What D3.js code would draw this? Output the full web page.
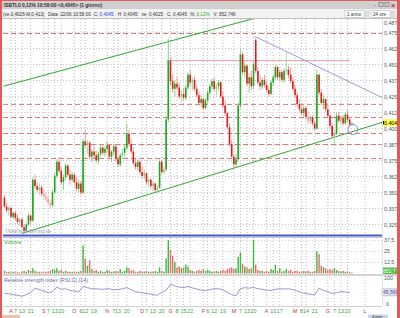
<!DOCTYPE html>
<html><head><meta charset="utf-8">
<script src="https://cdn.jsdelivr.net/npm/d3@7"></script>
<style>html,body{margin:0;padding:0;background:#fff;overflow:hidden}svg{display:block}text{font-family:"Liberation Sans",Arial,sans-serif}</style>
</head><body>
<svg id="c" width="400" height="318"></svg>
<script>
// ---- daily candles (price, euro) ----
const open=[
.3460,.3390,.3360,.3380,.3310,.3340,.3300,.3270,.3290,.3230,
.3200,.3250,.3320,.3280,.3600,.3550,.3520,.3540,.3490,.3470,
.3450,.3420,.3400,.3500,.3630,.3740,.3670,.3580,.3620,.3710,
.3640,.3600,.3640,.3580,.3530,.3570,.3500,.3900,.3870,.3890,
.3780,.3820,.3790,.3750,.3800,.3850,.3810,.3840,.3870,.3780,
.3820,.3860,.3760,.3720,.3790,.3810,.3850,.3960,.3880,.3820,
.3730,.3700,.3740,.3660,.3630,.3650,.3580,.3600,.3550,.3570,
.3520,.3540,.3740,.3660,.3680,.4070,.4530,.4370,.4310,.4350,
.4320,.4250,.4270,.4240,.4320,.4420,.4360,.4380,.4310,.4260,
.4200,.4230,.4160,.4220,.4280,.4330,.4370,.4310,.4330,.4360,
.4250,.4180,.4120,.4010,.3880,.3780,.3720,.3760,.4180,.4580,
.4440,.4490,.4350,.4400,.4330,.4690,.4450,.4360,.4330,.4380,
.4340,.4300,.4270,.4360,.4400,.4480,.4400,.4440,.4380,.4450,
.4460,.4420,.4370,.4310,.4260,.4190,.4150,.4120,.4160,.4090,
.4060,.4090,.4040,.4000,.4420,.4280,.4200,.4230,.4150,.4100,
.4020,.3940,.3960,.4100,.4060,.4080,.4040,.4110,.4070,.4030];
const high=[
.3480,.3420,.3400,.3390,.3350,.3360,.3330,.3300,.3300,.3250,
.3260,.3340,.3330,.3620,.3640,.3580,.3570,.3560,.3530,.3500,
.3480,.3440,.3520,.3650,.3760,.3780,.3700,.3640,.3730,.3720,
.3680,.3660,.3650,.3620,.3600,.3590,.3920,.3990,.3910,.3900,
.3840,.3860,.3830,.3820,.3870,.3880,.3860,.3900,.3880,.3830,
.3880,.3870,.3790,.3810,.3840,.3870,.4040,.3990,.3920,.3850,
.3770,.3760,.3750,.3700,.3680,.3660,.3620,.3610,.3590,.3580,
.3560,.3760,.3750,.3700,.4100,.4700,.4560,.4420,.4380,.4400,
.4360,.4300,.4320,.4340,.4440,.4460,.4400,.4410,.4340,.4290,
.4260,.4240,.4240,.4300,.4350,.4390,.4400,.4350,.4380,.4370,
.4290,.4220,.4130,.4040,.3910,.3800,.3800,.4200,.4620,.4600,
.4520,.4500,.4430,.4450,.4520,.4710,.4480,.4420,.4400,.4420,
.4370,.4330,.4380,.4420,.4500,.4490,.4460,.4460,.4470,.4600,
.4490,.4480,.4400,.4340,.4280,.4230,.4200,.4180,.4170,.4130,
.4110,.4100,.4060,.4460,.4430,.4310,.4260,.4240,.4190,.4110,
.4040,.3990,.4120,.4130,.4100,.4110,.4130,.4150,.4090,.4050];
const low=[
.3380,.3340,.3320,.3300,.3290,.3280,.3250,.3240,.3220,.3180,
.3190,.3240,.3260,.3270,.3530,.3500,.3480,.3470,.3450,.3430,
.3400,.3380,.3390,.3490,.3610,.3650,.3560,.3520,.3600,.3620,
.3560,.3580,.3570,.3510,.3500,.3480,.3490,.3850,.3800,.3760,
.3740,.3770,.3730,.3720,.3780,.3790,.3780,.3810,.3760,.3740,
.3790,.3740,.3700,.3700,.3760,.3780,.3830,.3860,.3800,.3710,
.3680,.3670,.3640,.3610,.3600,.3560,.3540,.3530,.3510,.3500,
.3490,.3530,.3640,.3640,.3670,.4050,.4340,.4280,.4250,.4300,
.4230,.4200,.4220,.4220,.4300,.4330,.4300,.4290,.4240,.4180,
.4170,.4140,.4150,.4200,.4260,.4300,.4290,.4260,.4300,.4230,
.4160,.4100,.3990,.3860,.3760,.3680,.3700,.3740,.4160,.4420,
.4400,.4330,.4280,.4300,.4310,.4430,.4340,.4300,.4310,.4320,
.4280,.4250,.4260,.4330,.4380,.4380,.4370,.4360,.4360,.4420,
.4390,.4350,.4290,.4240,.4170,.4130,.4100,.4090,.4070,.4030,
.4040,.4020,.3980,.3990,.4260,.4180,.4150,.4130,.4080,.4000,
.3920,.3880,.3950,.4040,.4030,.4020,.4030,.4050,.4010,.4020];
const close=[
.3390,.3360,.3380,.3310,.3340,.3300,.3270,.3290,.3230,.3200,
.3250,.3320,.3280,.3600,.3550,.3520,.3540,.3490,.3470,.3450,
.3420,.3400,.3500,.3630,.3740,.3670,.3580,.3620,.3710,.3640,
.3600,.3640,.3580,.3530,.3570,.3500,.3900,.3870,.3890,.3780,
.3820,.3790,.3750,.3800,.3850,.3810,.3840,.3870,.3780,.3820,
.3860,.3760,.3720,.3790,.3810,.3850,.3960,.3880,.3820,.3730,
.3700,.3740,.3660,.3630,.3650,.3580,.3600,.3550,.3570,.3520,
.3540,.3740,.3660,.3680,.4070,.4530,.4370,.4310,.4350,.4320,
.4250,.4270,.4240,.4320,.4420,.4360,.4380,.4310,.4260,.4200,
.4230,.4160,.4220,.4280,.4330,.4370,.4310,.4330,.4360,.4250,
.4180,.4120,.4010,.3880,.3780,.3720,.3760,.4180,.4580,.4440,
.4490,.4350,.4400,.4330,.4500,.4450,.4360,.4330,.4380,.4340,
.4300,.4270,.4360,.4400,.4480,.4400,.4440,.4380,.4450,.4460,
.4420,.4370,.4310,.4260,.4190,.4150,.4120,.4160,.4090,.4060,
.4090,.4040,.4000,.4420,.4280,.4200,.4230,.4150,.4100,.4020,
.3940,.3960,.4100,.4060,.4080,.4040,.4110,.4070,.4030,.4045];
// ---- volume (millions) ----
const volume=[
3,2,2,1.5,2,1.5,2,1,2,3,
2,4,3,6,3,2,2,2,1.5,2,
2,3,5,4,6,3,4,2,3,2,
2,2,1.5,2,2,3,32,17,9,15,
5,3,4,2,3,2,2,4,3,2,
2,3,2,5,2,3,7,6,3,4,
2,2,3,2,2,3,2,2,2,3,
2,7,3,2,17,38,27,20,13,7,
8,6,7,10,8,4,3,2,3,4,
3,5,3,4,3,2,2,3,2,3,
4,3,5,6,7,5,6,19,24,11,
8,7,5,6,38,10,4,3,3,2,
3,2,5,4,10,3,6,2,3,5,
3,4,2,3,3,2,2,3,2,3,
2,2,3,25,22,9,7,6,4,5,
4,6,4,3,2,3,2,2,1.5,1];
// ---- RSI(14), read every second session ----
const rsi=[42,40,37,35,31,37,44,60,55,50,44,48,64,56,58,52,50,46,66,62,
58,58,56,57,58,54,55,58,62,55,47,45,42,40,37,35,45,52,74,68,
64,62,66,61,57,53,52,55,58,58,54,46,37,33,58,62,60,63,58,56,
53,52,56,58,57,58,55,50,44,41,38,36,60,52,48,40,44,48,46,45];
// ---- axis ticks ----
const priceTicks=[0.4875,0.4750,0.4625,0.4500,0.4375,0.4250,0.4125,0.4000,0.3875,0.3750,0.3625,0.3500,0.3375,0.3250];
const volTicks=[12.5,25,37.5];
const xTickLabels=["A","7","13","21","S","7","13","20","O","6","12","19","N","7","13","20","D","7","13","20","G","8","15","22","F","6","12","19","M","7","13","20","A","10","17","M","8","14","21","G","7","13","20","L"];
const xTickIdx=[3,5,8,12,18,20,23,26,32,35,37,41,47,50,52,56,63,65,68,72,76,79,82,85,91,93,96,100,105,108,111,114,120,123,126,133,136,138,142,148,151,154,157,165];
// ---- drawn studies (session index, price) ----
const supportLevels=[0.4742,0.4188,0.4086,0.3961,0.3875,0.3766];
const pinkLevel={i0:74.5,i1:158,v:0.4531};
const channelUpper=[[-0.5,0.4330],[116,0.4868]];
const channelLower=[[8,0.3180],[172.8,0.4047]];
const downTrend=[[114.7,0.4719],[172.8,0.4242]];
const baseLine=0.3164;
const touchPoint=[159.5,0.3992];
const lastPrice=0.4045;

const svg=d3.select("#c");
const fmt=v=>d3.format(".4f")(v).replace(".",",");
const xs=d3.scaleLinear().domain([-0.2,172.8]).range([4,382]);
const yP=d3.scaleLinear().domain([0.3250,0.4875]).range([224.5,16.5]);
const yV=d3.scaleLinear().domain([0,40.3]).range([273.5,238]);
const yR=d3.scaleLinear().domain([0,100]).range([305,277]);
const L=3,R=382;

svg.append("rect").attr("width",400).attr("height",318).attr("fill","#fff");
// vertical grid
svg.append("g").selectAll("line").data(xTickIdx).join("line")
 .attr("x1",d=>xs(d)).attr("x2",d=>xs(d)).attr("y1",19).attr("y2",306)
 .attr("stroke","#bdbdbd").attr("stroke-dasharray","1,2");
// horizontal price grid
svg.append("g").selectAll("line").data(priceTicks).join("line")
 .attr("x1",L).attr("x2",R).attr("y1",d=>yP(d)).attr("y2",d=>yP(d))
 .attr("stroke","#c6c6c6").attr("stroke-dasharray","1,2");

svg.append("clipPath").attr("id","pc").append("rect").attr("x",L).attr("y",19).attr("width",R-L).attr("height",217);
const gP=svg.append("g").attr("clip-path","url(#pc)");
// support/resistance dashed
gP.selectAll("line.s").data(supportLevels).join("line").attr("class","s")
 .attr("x1",L).attr("x2",R).attr("y1",d=>yP(d)).attr("y2",d=>yP(d))
 .attr("stroke","#e07878").attr("stroke-dasharray","5,3");
gP.append("line").attr("x1",xs(pinkLevel.i0)).attr("x2",xs(pinkLevel.i1))
 .attr("y1",yP(pinkLevel.v)).attr("y2",yP(pinkLevel.v)).attr("stroke","#f0a0a8");
const seg=(p,c,w)=>gP.append("line").attr("x1",xs(p[0][0])).attr("y1",yP(p[0][1]))
 .attr("x2",xs(p[1][0])).attr("y2",yP(p[1][1])).attr("stroke",c).attr("stroke-width",w);
seg(channelUpper,"#2ea82e",1);
seg(channelLower,"#2ea82e",1);
seg(downTrend,"#9a9ad8",1);

// candles
const idx=d3.range(close.length);
const col=i=>{const b=close[i]-open[i];
 if(b>=0) return b<0.003?["#7ccc7c","#9ad89a"]:["#1ea81e","#7ccc7c"];
 return -b<0.003?["#f0a0a0","#f4b0b0"]:["#e01c1c","#f09090"];};
const gc=gP.append("g");
gc.selectAll("line").data(idx).join("line")
 .attr("x1",i=>xs(i)).attr("x2",i=>xs(i)).attr("y1",i=>yP(high[i])).attr("y2",i=>yP(low[i]))
 .attr("stroke",i=>col(i)[1]).attr("stroke-width",0.9);
gc.selectAll("rect").data(idx).join("rect")
 .attr("x",i=>xs(i)-0.8).attr("width",1.6)
 .attr("y",i=>Math.min(yP(open[i]),yP(close[i])))
 .attr("height",i=>Math.max(0.8,Math.abs(yP(open[i])-yP(close[i]))))
 .attr("fill",i=>col(i)[0]);
gP.append("circle").attr("cx",xs(touchPoint[0])).attr("cy",yP(touchPoint[1])).attr("r",5)
 .attr("fill","none").attr("stroke","#8a8ae0");
svg.append("text").attr("x",5).attr("y",232.5).attr("font-size",4.5).attr("fill","#7f8fb0")
 .attr("textLength",46).attr("lengthAdjust","spacingAndGlyphs").text("© ProRealTime.com - Dati in tempo reale");
// base line
svg.append("line").attr("x1",L).attr("x2",R).attr("y1",yP(baseLine)).attr("y2",yP(baseLine))
 .attr("stroke","#4658d0").attr("stroke-width",2);
svg.append("line").attr("x1",L).attr("x2",R).attr("y1",237.5).attr("y2",237.5).attr("stroke","#c8c8d8");

// price axis labels
svg.append("g").selectAll("text").data(priceTicks).join("text")
 .attr("x",384).attr("y",d=>Math.max(yP(d)+2,24.5)).attr("font-size",5.3).attr("fill","#555").text(fmt);
svg.append("rect").attr("x",382).attr("y",yP(lastPrice)-3.5).attr("width",15).attr("height",7).attr("fill","#ffff50");
svg.append("text").attr("x",384).attr("y",yP(lastPrice)+2).attr("font-size",5.3).attr("fill","#000").text(fmt(lastPrice));
svg.append("path").attr("d",`M${R-1},${yP(lastPrice)} l3,-2 v4z`).attr("fill","#000");

// volume panel
svg.append("text").attr("x",4).attr("y",244).attr("font-size",5.3).attr("fill","#2ea82e").text("Volume");
svg.append("g").selectAll("line").data(volTicks).join("line")
 .attr("x1",L).attr("x2",R).attr("y1",d=>yV(d)).attr("y2",d=>yV(d)).attr("stroke","#d0d0d0").attr("stroke-dasharray","1,2");
svg.append("g").selectAll("rect").data(idx).join("rect")
 .attr("x",i=>xs(i)-0.7).attr("width",1.4).attr("y",i=>yV(volume[i])).attr("height",i=>yV(0)-yV(volume[i]))
 .attr("fill",i=>close[i]>=open[i]?"#3cb83c":"#e86a6a");
svg.append("g").selectAll("text").data(volTicks).join("text")
 .attr("x",384).attr("y",d=>yV(d)+2).attr("font-size",5.3).attr("fill","#555").text(d=>String(d).replace(".",","));
svg.append("rect").attr("x",382).attr("y",267.5).attr("width",15).attr("height",7).attr("fill","#50c050");
svg.append("text").attr("x",383).attr("y",273).attr("font-size",5).attr("fill","#fff").text("852,7");
svg.append("rect").attr("x",L).attr("y",274).attr("width",394).attr("height",2).attr("fill","#d4d4d4");

// RSI panel
svg.append("text").attr("x",4).attr("y",282).attr("font-size",5.3).attr("fill","#6a6aa8").text("Relative strength index (RSI,C) (14)");
svg.append("path").datum(rsi).attr("fill","none").attr("stroke","#8c8cc8").attr("stroke-width",0.9)
 .attr("d",d3.line().x((d,k)=>xs(2*k)).y(d=>yR(d)));
svg.append("text").attr("x",384).attr("y",yR(100)+2.5).attr("font-size",5.3).attr("fill","#555").text("100");
svg.append("text").attr("x",386).attr("y",yR(0)+1).attr("font-size",5.3).attr("fill","#555").text("0");
svg.append("rect").attr("x",382).attr("y",yR(rsi[rsi.length-1])-3.5).attr("width",15).attr("height",7).attr("fill","#e4e4f0").attr("stroke","#9090c0").attr("stroke-width",0.5);
svg.append("text").attr("x",383).attr("y",yR(rsi[rsi.length-1])+2).attr("font-size",5).attr("fill","#5050a0").text("45,566");
svg.append("line").attr("x1",L).attr("x2",R).attr("y1",306.5).attr("y2",306.5).attr("stroke","#d0d0d0");
svg.append("line").attr("x1",R+0.5).attr("x2",R+0.5).attr("y1",19).attr("y2",306).attr("stroke","#e0e0e0");

// x-axis labels (month initials red, days green)
svg.append("g").selectAll("text").data(xTickIdx).join("text")
 .attr("x",d=>xs(d)).attr("y",313).attr("text-anchor","middle").attr("font-size",5.3)
 .attr("fill",(d,k)=>isNaN(+xTickLabels[k])?"#d03030":"#3aa03a")
 .text((d,k)=>xTickLabels[k]);

// bottom tabs
svg.append("rect").attr("x",2).attr("y",315).attr("width",18).attr("height",3).attr("fill","#f0c0b0");
svg.append("rect").attr("x",368).attr("y",314.5).attr("width",20).attr("height",3.5).attr("fill","#c8d4e8");
svg.append("text").attr("x",372).attr("y",318).attr("font-size",4).attr("fill","#333").text("Zoom");

// header
svg.append("rect").attr("x",0).attr("y",0).attr("width",400).attr("height",9).attr("fill","#cfcfcf");
svg.append("rect").attr("x",0).attr("y",9).attr("width",400).attr("height",10).attr("fill","#f2f2f2");
svg.append("line").attr("x1",0).attr("x2",400).attr("y1",18.5).attr("y2",18.5).attr("stroke","#c0c0c0");
svg.append("text").attr("x",4).attr("y",7).attr("font-size",5.2).attr("font-weight","bold").attr("fill","#333")
 .attr("textLength",98).attr("lengthAdjust","spacingAndGlyphs")
 .text("ISBTL0 0,12% 10:58:00 <0,4045> (1 giorno)");
// info row: each part placed after the previous one's measured width
const hdrParts=[["(ve.0,4025-M,0,413)","#333",3.5],["Data: 22/06 10:58:00","#333",3],["C:","#333",1.2],["0,4045","#2a4ad0",4],
 ["H: 0,4045","#333",4],["ve: 0,4025","#333",4],["C: 0,4045","#333",3],["%:","#333",1.2],["0,12%","#2ea82e",4],["V: 852,746","#333",0]];
let hx=3;
hdrParts.forEach(p=>{
 const t=svg.append("text").attr("x",hx).attr("y",16).attr("font-size",4.6).attr("fill",p[1]).text(p[0]);
 hx+=t.node().getComputedTextLength()+p[2];
});
// dropdowns
svg.append("rect").attr("x",345).attr("y",10.5).attr("width",19).attr("height",7).attr("fill","#fff").attr("stroke","#b0b0b0").attr("stroke-width",0.5);
svg.append("text").attr("x",347).attr("y",16).attr("font-size",4.6).attr("fill","#333").text("1 anno");
svg.append("rect").attr("x",364).attr("y",10.5).attr("width",5).attr("height",7).attr("fill","#dcdcdc");
svg.append("rect").attr("x",371).attr("y",10.5).attr("width",19).attr("height",7).attr("fill","#fff").attr("stroke","#b0b0b0").attr("stroke-width",0.5);
svg.append("text").attr("x",373).attr("y",16).attr("font-size",4.6).attr("fill","#333").text("24 ore");
svg.append("rect").attr("x",390).attr("y",10.5).attr("width",5).attr("height",7).attr("fill","#dcdcdc");
// window buttons
svg.append("text").attr("x",374).attr("y",7).attr("font-size",6).attr("fill","#555").text("-");
svg.append("rect").attr("x",379).attr("y",2.5).attr("width",4).attr("height",4).attr("fill","none").attr("stroke","#666").attr("stroke-width",0.6);
svg.append("rect").attr("x",385).attr("y",2.5).attr("width",4).attr("height",4).attr("fill","none").attr("stroke","#666").attr("stroke-width",0.6);
svg.append("text").attr("x",391).attr("y",7.5).attr("font-size",7).attr("font-weight","bold").attr("fill","#d02020").text("×");
// frame
svg.append("rect").attr("x",0).attr("y",0).attr("width",400).attr("height",1).attr("fill","#e45a5a");
svg.append("rect").attr("x",0).attr("y",0).attr("width",2).attr("height",318).attr("fill","#e45a5a");
svg.append("rect").attr("x",397).attr("y",0).attr("width",3).attr("height",318).attr("fill","#e45a5a");
</script>
</body></html>
